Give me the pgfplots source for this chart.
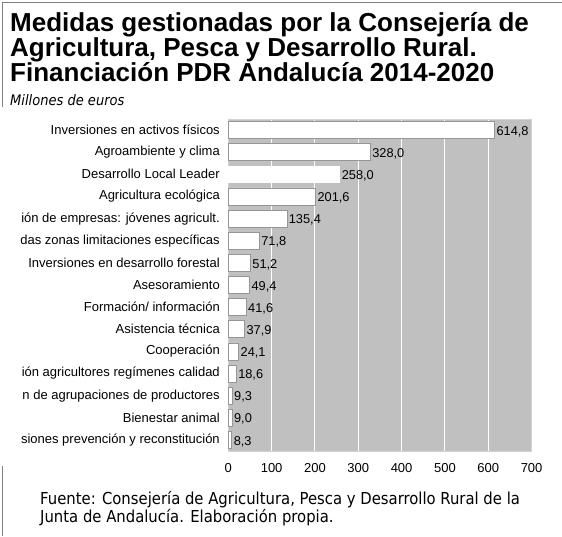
\documentclass[border=0pt]{standalone}
\usepackage{pgfplots}
\pgfplotsset{compat=1.18}
\usepackage{fontspec}
\setmainfont{Liberation Sans}
\newfontfamily\tahoma{DejaVu Sans Condensed}
\definecolor{plotbg}{RGB}{192,192,192}
\definecolor{framegray}{RGB}{128,128,128}
\definecolor{barborder}{RGB}{150,150,150}
\definecolor{plotframe}{RGB}{212,212,212}
\pgfplotstableread{
y x
0 614.8
1 328.0
3 201.6
4 135.4
5 71.8
6 51.2
7 49.4
8 41.6
9 37.9
10 24.1
11 18.6
12 9.3
13 9.0
14 8.3
}\mainbars
\pgfplotstableread{
y x
2 258.0
}\leaderbar
\begin{document}
\begin{tikzpicture}[x=1pt,y=1pt]
\path[use as bounding box] (0,0) rectangle (562,536);
\begin{scope}
\clip (0,0) rectangle (562,536);
\draw[framegray, line width=1pt] (2,429) -- (2,533) -- (562,533);
\draw[framegray, line width=1pt] (2,0) -- (2,70);
\begin{scope}[every node/.style={anchor=base west, inner sep=0pt, font=\fontsize{26}{26}\selectfont\bfseries}]
\node at (10,504) {Medidas gestionadas por la Consejería de};
\node at (10,479) {Agricultura, Pesca y Desarrollo Rural.};
\node at (10,454) {Financiación PDR Andalucía 2014-2020};
\end{scope}
\node[anchor=base west, inner sep=0pt, font=\fontsize{14.5}{16}\selectfont\tahoma\itshape] at (10,430) {Millones de euros};
\begin{scope}[every node/.style={anchor=base west, inner sep=0pt, font=\fontsize{16.5}{18}\selectfont\tahoma}]
\node at (40,32) {Fuente: Consejería de Agricultura, Pesca y Desarrollo Rural de la};
\node at (40,14) {Junta de Andalucía. Elaboración propia.};
\end{scope}
\begin{axis}[
  at={(228.3pt,85pt)}, anchor=south west,
  scale only axis, width=303.3pt, height=332pt,
  xmin=0, xmax=700, ymin=-0.5, ymax=14.5,
  y dir=reverse,
  xbar, bar width=17pt,
  axis background/.style={fill=plotbg},
  axis line style={draw=plotframe, line width=1pt},
  xtick={0,100,...,700},
  ytick={0,...,14},
  yticklabels={Inversiones en activos físicos, Agroambiente y clima, Desarrollo Local Leader, Agricultura ecológica, ión de empresas: jóvenes agricult., das zonas limitaciones específicas, Inversiones en desarrollo forestal, Asesoramiento, Formación/ información, Asistencia técnica, Cooperación, ión agricultores regímenes calidad, n de agrupaciones de productores, Bienestar animal, siones prevención y reconstitución},
  major tick length=0pt,
  xmajorgrids, major grid style={white, line width=1pt},
  /pgf/number format/assume math mode=true,
  xticklabel style={font=\fontsize{13}{13}\selectfont, yshift=-9pt},
  yticklabel style={font=\fontsize{13}{13}\selectfont, xshift=-5pt},
  clip=false,
  nodes near coords={\pgfmathprintnumber[fixed,fixed zerofill,precision=1,use comma]{\pgfplotspointmeta}},
  nodes near coords style={font=\fontsize{12.8}{13}\selectfont, anchor=west, inner sep=1.5pt, yshift=-1.5pt},
  point meta=x,
]
\addplot[fill=white, draw=barborder, line width=0.8pt, bar shift=0pt] table[x=x, y=y] {\mainbars};
\addplot[fill=white, draw=none, bar shift=0pt] table[x=x, y=y] {\leaderbar};
\end{axis}
\end{scope}
\end{tikzpicture}
\end{document}
